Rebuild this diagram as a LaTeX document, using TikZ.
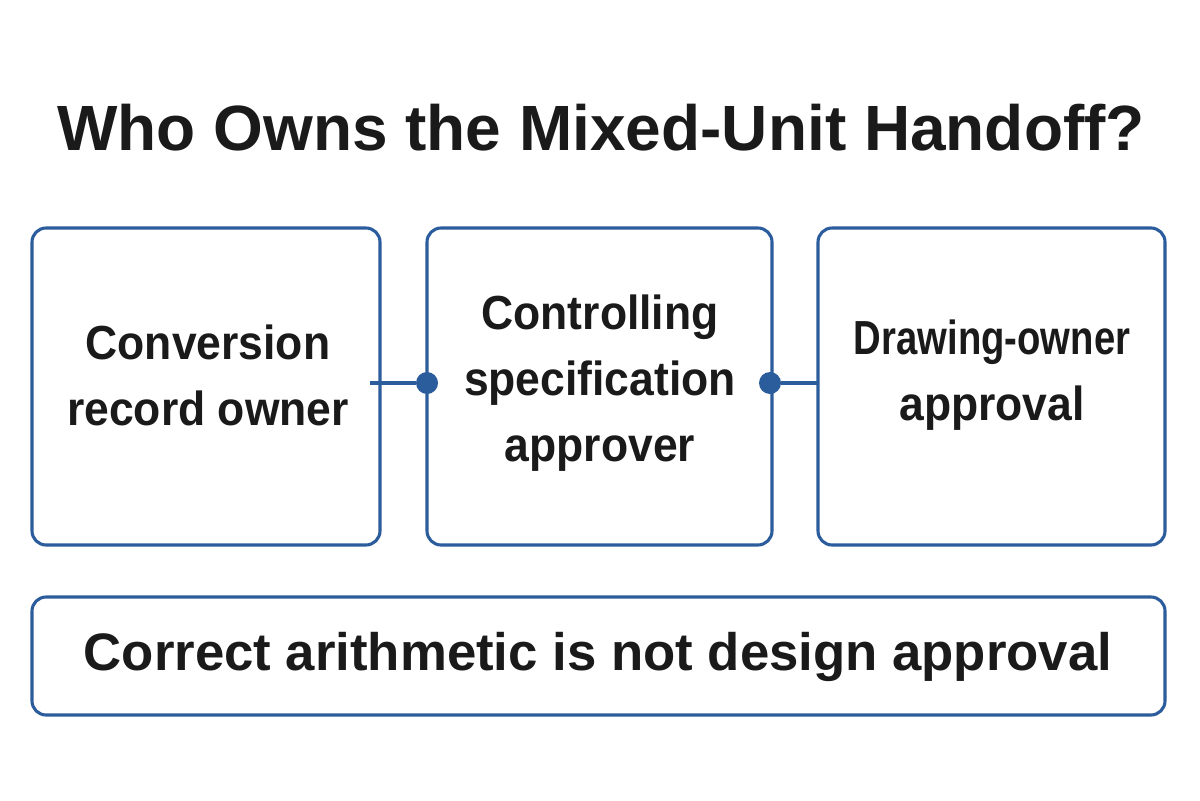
\documentclass[tikz,border=0pt]{standalone}
\usepackage{fontspec}
\setmainfont{Liberation Sans}
\definecolor{bl}{HTML}{2B5C9C}
\definecolor{tx}{HTML}{1A1A1A}
\newcommand{\sq}[2][0.93]{\scalebox{#1}[1]{#2}}
\begin{document}
\begin{tikzpicture}[x=0.025cm,y=-0.025cm,
  box/.style={draw=bl,line width=2.2pt,rounded corners=10pt},
  lbl/.style={text=tx,align=center,font=\fontsize{34}{47}\selectfont\bfseries},
  dot/.style={circle,fill=bl,inner sep=0pt,minimum size=0.55cm},
  con/.style={bl,line width=2.2pt}]
\useasboundingbox (0,0) rectangle (1200,800);
\node[text=tx,font=\fontsize{45.5}{50}\selectfont\bfseries] (title) at (601,128) {Who Owns the Mixed-Unit Handoff?};
\draw[box] (32,228) rectangle (380,545);
\draw[box] (427,228) rectangle (772,545);
\draw[box] (818,228) rectangle (1165,545);
\draw[box] (32,597) rectangle (1165,715);
\node[lbl] (a) at (208,375) {\sq{Conversion}\\\sq{record owner}};
\node[lbl] (b) at (600,383) {\sq{Controlling}\\\sq{specification}\\\sq{approver}};
\node[lbl] (c) at (992,375) {\sq[0.8]{Drawing-owner}\\\sq{approval}};
\node[lbl,font=\fontsize{37.5}{47}\selectfont\bfseries] (d) at (598,657) {Correct arithmetic is not design approval};
\coordinate (e1) at (370,383);
\coordinate (e2) at (818,383);
\node[dot] (d1) at (427,383) {};
\node[dot] (d2) at (770,383) {};
\draw[con] (e1) -- (d1);
\draw[con] (d2) -- (e2);
\end{tikzpicture}
\end{document}
